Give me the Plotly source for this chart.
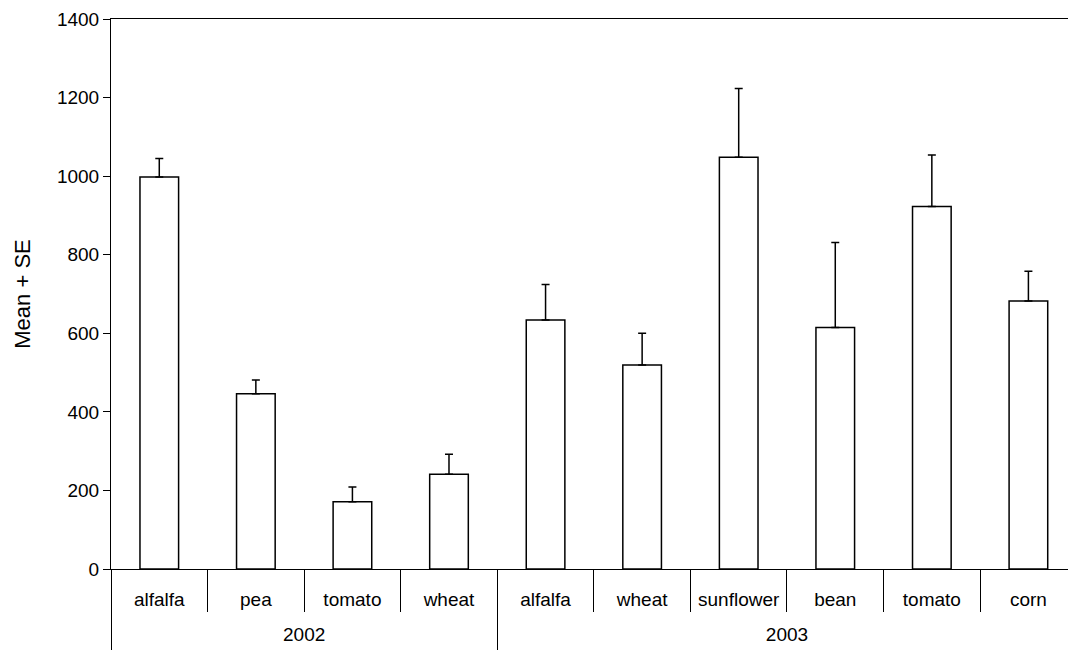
import plotly.graph_objects as go

years = ["2002", "2003"]
crops = ["alfalfa", "pea", "tomato", "wheat",
         "alfalfa", "wheat", "sunflower", "bean", "tomato", "corn"]
crop_year = ["2002"] * 4 + ["2003"] * 6
means = [998, 446, 171, 241, 634, 519, 1048, 615, 923, 682]
se = [47, 35, 38, 51, 90, 81, 175, 216, 131, 76]
y_ticks = [0, 200, 400, 600, 800, 1000, 1200, 1400]

FONT = "Arial, Liberation Sans, sans-serif"
pos = list(range(len(crops)))
bounds = [p - 0.5 for p in pos]
group_centers = []
group_bounds = []
for yr in years:
    idx = [i for i, c in enumerate(crop_year) if c == yr]
    group_centers.append((idx[0] + idx[-1]) / 2)
    group_bounds.append(idx[0] - 0.5)

fig = go.Figure()
fig.add_trace(go.Bar(
    x=pos, y=means, width=0.40,
    marker=dict(color="white", line=dict(color="black", width=1.5)),
    error_y=dict(type="data", array=se, arrayminus=[0] * len(se), symmetric=False,
                 color="black", thickness=1.5, width=4),
    showlegend=False, hoverinfo="y",
))
fig.add_trace(go.Scatter(x=[], y=[], xaxis="x2", showlegend=False, hoverinfo="skip"))

xr = [-0.5, 9.41]
fig.update_layout(
    width=1068, height=650,
    margin=dict(l=111, r=0, t=19, b=81),
    plot_bgcolor="white", paper_bgcolor="white",
    font=dict(family=FONT, color="black", size=19),
    xaxis=dict(
        range=xr, tickmode="array", tickvals=pos, ticktext=crops,
        ticks="", showline=True, linecolor="black", linewidth=1, mirror=True,
        showgrid=False, zeroline=False, tickfont=dict(size=19),
        ticklabelstandoff=13,
        minor=dict(tickmode="array", tickvals=bounds, ticks="outside",
                   ticklen=42, tickcolor="black", tickwidth=1),
    ),
    xaxis2=dict(
        range=xr, overlaying="x", anchor="y", side="bottom",
        tickmode="array", tickvals=group_centers, ticktext=years,
        ticks="", showline=False, showgrid=False, zeroline=False,
        tickfont=dict(size=19), ticklabelstandoff=52,
        minor=dict(tickmode="array", tickvals=group_bounds, ticks="outside",
                   ticklen=81, tickcolor="black", tickwidth=1),
    ),
    yaxis=dict(
        range=[0, 1400], tickmode="array", tickvals=y_ticks,
        ticks="outside", ticklen=7, tickcolor="black",
        showline=True, linecolor="black", linewidth=1,
        showgrid=False, zeroline=False, tickfont=dict(size=19),
        title=dict(text="Mean + SE", font=dict(size=22), standoff=20),
    ),
)
fig.write_html(
    "out.html",
    config={"displayModeBar": False},
    post_script=("document.body.style.margin='0';"
                 "document.body.style.overflow='hidden';"
                 "document.documentElement.style.overflow='hidden';"),
)
